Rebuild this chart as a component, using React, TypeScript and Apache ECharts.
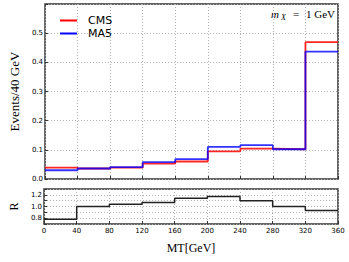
import React, { useEffect, useRef } from "react";
import * as echarts from "echarts";

const binEdges = [0, 40, 80, 120, 160, 200, 240, 280, 320, 360];
const cmsValues = [0.039, 0.036, 0.039, 0.053, 0.060, 0.095, 0.104, 0.102, 0.469];
const ma5Values = [0.030, 0.036, 0.041, 0.058, 0.068, 0.110, 0.116, 0.102, 0.437];
const ratioValues = [0.78, 1.00, 1.04, 1.07, 1.14, 1.17, 1.10, 1.00, 0.93];
const seriesNames = ["CMS", "MA5"];

function stepPoints(vals: number[]) {
  const pts = vals.map((v, i) => [binEdges[i], v]);
  pts.push([binEdges[binEdges.length - 1], vals[vals.length - 1]]);
  return pts;
}

const serif = "Liberation Serif";
const sans = "DejaVu Sans";

export default function App() {
  const ref = useRef<HTMLDivElement>(null);
  useEffect(() => {
    if (!ref.current) return;
    const chart = echarts.init(ref.current, null, { renderer: "svg" });
    const gridLine = { show: true, lineStyle: { color: "#b0b0b0", type: [1, 2] as any, width: 1 } };
    const tick = { show: true, inside: true, length: 3, lineStyle: { color: "#333" } };
    chart.setOption({
      animation: false,
      backgroundColor: "#ffffff",
      grid: [
        { left: 43, top: 4, width: 295, height: 175, show: true, borderColor: "#333", borderWidth: 1.5, backgroundColor: "transparent" },
        { left: 43, top: 189, width: 295, height: 35, show: true, borderColor: "#333", borderWidth: 1.5, backgroundColor: "transparent" },
      ],
      legend: {
        orient: "vertical",
        left: 55,
        top: 10,
        itemWidth: 17,
        itemHeight: 2,
        itemGap: 2,
        icon: "rect",
        data: seriesNames,
        textStyle: { fontFamily: sans, fontSize: 11, color: "#000", padding: [0, 0, 0, 6] },
      },
      xAxis: [
        {
          type: "value", gridIndex: 0, min: 0, max: 360, interval: 40,
          axisLine: { show: false }, axisTick: tick, axisLabel: { show: false }, splitLine: gridLine,
        },
        {
          type: "value", gridIndex: 1, min: 0, max: 360, interval: 40,
          axisLine: { show: false }, axisTick: tick,
          axisLabel: { fontFamily: sans, fontSize: 7, color: "#000", margin: 3 },
          splitLine: gridLine,
          name: "MT[GeV]", nameLocation: "middle", nameGap: 18,
          nameTextStyle: { fontFamily: serif, fontSize: 12, color: "#000" },
        },
      ],
      yAxis: [
        {
          type: "value", gridIndex: 0, min: 0, max: 0.6, interval: 0.1,
          axisLine: { show: false }, axisTick: tick,
          axisLabel: { fontFamily: sans, fontSize: 7, color: "#000", margin: 2, formatter: (v: number) => (v < 0.55 ? v.toFixed(1) : "") },
          splitLine: gridLine,
          name: "Events/40 GeV", nameLocation: "middle", nameGap: 24, nameRotate: 90,
          nameTextStyle: { fontFamily: serif, fontSize: 13, color: "#000" },
        },
        {
          type: "value", gridIndex: 1, min: 0.7, max: 1.3, interval: 0.1,
          axisLine: { show: false }, axisTick: tick,
          axisLabel: {
            fontFamily: sans, fontSize: 7, color: "#000", margin: 2,
            formatter: (v: number) => { const r = Math.round(v * 10); return r === 8 || r === 10 || r === 12 ? v.toFixed(1) : ""; },
          },
          splitLine: gridLine,
          name: "R", nameLocation: "middle", nameGap: 20, nameRotate: 90,
          nameTextStyle: { fontFamily: serif, fontSize: 12, color: "#000" },
        },
      ],
      series: [
        {
          name: seriesNames[0], type: "line", step: "end", xAxisIndex: 0, yAxisIndex: 0,
          data: stepPoints(cmsValues), symbol: "none", color: "#ff0000",
          lineStyle: { color: "#ff0000", width: 1.8, opacity: 0.85 },
        },
        {
          name: seriesNames[1], type: "line", step: "end", xAxisIndex: 0, yAxisIndex: 0,
          data: stepPoints(ma5Values), symbol: "none", color: "#0000ff",
          lineStyle: { color: "#0000ff", width: 1.8, opacity: 0.8 },
        },
        {
          name: "R", type: "line", step: "end", xAxisIndex: 1, yAxisIndex: 1,
          data: stepPoints(ratioValues), symbol: "none", color: "#222",
          lineStyle: { color: "#222", width: 1.5 },
        },
      ],
      graphic: [
        { type: "text", left: 271, top: 8, style: { text: "m", font: `italic 11px '${serif}'`, fill: "#000" } },
        { type: "text", left: 281, top: 13, style: { text: "X", font: `italic 8px '${serif}'`, fill: "#000" } },
        { type: "text", left: 293, top: 8, style: { text: "=", font: `11px '${serif}'`, fill: "#000" } },
        { type: "text", left: 306, top: 8, style: { text: "1 GeV", font: `11px '${serif}'`, fill: "#000" } },
      ],
    });
    return () => chart.dispose();
  }, []);
  return (
    <div
      ref={ref}
      style={{ position: "fixed", left: 0, top: 0, width: 349, height: 262, background: "#fff" }}
    />
  );
}
